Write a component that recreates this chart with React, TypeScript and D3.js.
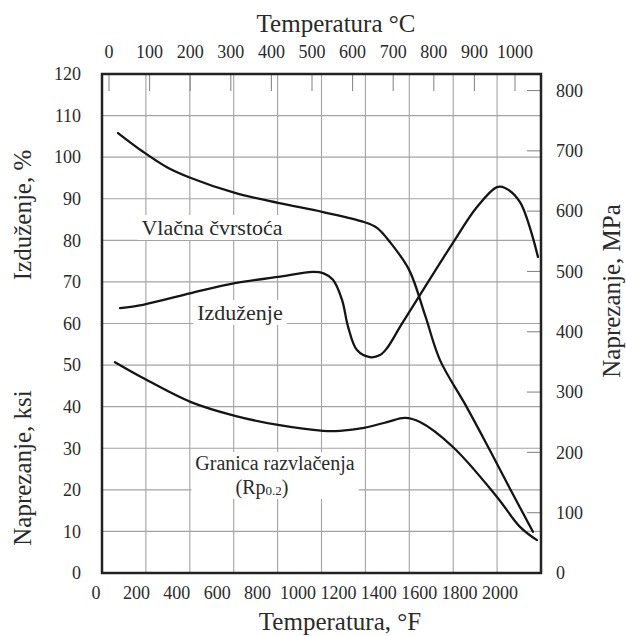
import React, { useLayoutEffect, useRef, useState } from "react";
import * as d3 from "d3";

// ---- data (°F on the printed bottom labels; ksi / % on the left axis) ----
const fLabels = [0, 200, 400, 600, 800, 1000, 1200, 1400, 1600, 1800, 2000];
const cLabels = [0, 100, 200, 300, 400, 500, 600, 700, 800, 900, 1000];
const leftLabels = [0, 10, 20, 30, 40, 50, 60, 70, 80, 90, 100, 110, 120];
const mpaLabels = [0, 100, 200, 300, 400, 500, 600, 700, 800];
const gridF = [200, 400, 600, 800, 1000, 1200, 1400, 1600, 1800];
const gridLeft = [10, 20, 30, 40, 50, 60, 70, 80, 90, 100, 110];

const tensileF = [109, 233, 351, 470, 688, 901, 1124, 1327, 1391, 1455, 1550, 1629, 1703, 1827, 1936, 2045, 2163];
const tensileKsi = [105.8, 101.3, 97.6, 95.0, 91.4, 89.0, 86.8, 84.4, 83.0, 79.6, 72.9, 62.0, 51.2, 40.6, 30.8, 20.7, 9.9];

const elongF = [119, 233, 470, 688, 901, 1074, 1124, 1173, 1218, 1248, 1292, 1356, 1406, 1441, 1505, 1594, 1767, 1886, 1985, 2025, 2099, 2188];
const elongPct = [63.7, 64.5, 67.3, 69.7, 71.2, 72.4, 72.1, 70.5, 65.7, 59.2, 53.6, 51.9, 52.4, 54.1, 59.2, 66.1, 79.4, 88.0, 92.8, 92.6, 89.2, 76.0];

const yieldF = [94, 233, 470, 688, 901, 1124, 1208, 1327, 1441, 1530, 1604, 1767, 1985, 2099, 2183];
const yieldKsi = [50.7, 46.9, 41.1, 37.8, 35.6, 34.2, 34.2, 34.9, 36.3, 37.3, 36.3, 30.3, 18.3, 11.1, 7.9];

const MPA_PER_KSI = 6.895;

const FONT = '"Liberation Serif", "Times New Roman", serif';
const TEXT = "#2a2a2a";

type Box = { x: number; y: number; w: number; h: number };

export default function App() {
  const W = 626;
  const H = 636;
  const x = d3.scaleLinear().domain([0, 2000]).range([96, 500]);
  const xGrid = d3.scaleLinear().domain([0, 2000]).range([102, 541]);
  const xC = d3.scaleLinear().domain([0, 1000]).range([109, 515]);
  const y = d3.scaleLinear().domain([0, 120]).range([573, 74]);
  const [x0, x1] = xGrid.range();
  const [yb, yt] = y.range();

  const line = d3
    .line<[number, number]>()
    .x((d) => x(d[0]))
    .y((d) => y(d[1]))
    .curve(d3.curveCatmullRom.alpha(0.5));

  const series = [
    d3.zip(tensileF, tensileKsi) as [number, number][],
    d3.zip(elongF, elongPct) as [number, number][],
    d3.zip(yieldF, yieldKsi) as [number, number][],
  ];

  const r1 = useRef<SVGGElement>(null);
  const r2 = useRef<SVGGElement>(null);
  const r3 = useRef<SVGGElement>(null);
  const [boxes, setBoxes] = useState<Box[]>([]);
  useLayoutEffect(() => {
    const bs: Box[] = [];
    [r1, r2, r3].forEach((r) => {
      if (r.current) {
        const b = r.current.getBBox();
        bs.push({ x: b.x - 4, y: b.y, w: b.width + 8, h: b.height });
      }
    });
    setBoxes(bs);
  }, []);

  return (
    <svg
      width={W}
      height={H}
      style={{ position: "absolute", left: 0, top: 0, background: "#fff" }}
      fontFamily={FONT}
    >
      <rect width={W} height={H} fill="#fff" />
      {/* grid */}
      <g stroke="#a3a3a3" strokeWidth={1.1}>
        {gridF.map((f) => (
          <line key={"gv" + f} x1={xGrid(f)} x2={xGrid(f)} y1={yt} y2={yb} />
        ))}
        {gridLeft.map((v) => (
          <line key={"gh" + v} x1={x0} x2={x1} y1={y(v)} y2={y(v)} />
        ))}
      </g>
      {/* °C ticks at top */}
      <g stroke="#8a8a8a" strokeWidth={1.1}>
        {cLabels.map((c) => (
          <line key={"ct" + c} x1={xC(c)} x2={xC(c)} y1={yt} y2={yt + 17} />
        ))}
        {mpaLabels.slice(1).map((m) => (
          <line key={"mt" + m} x1={x1 - 14} x2={x1} y1={y(m / MPA_PER_KSI)} y2={y(m / MPA_PER_KSI)} />
        ))}
      </g>
      {/* label backgrounds */}
      {boxes.map((b, i) => (
        <rect key={"bx" + i} x={b.x} y={b.y} width={b.w} height={b.h} fill="#fff" />
      ))}
      {/* curve labels */}
      <g fill={TEXT}>
        <g ref={r1}>
          <text x={212} y={235} fontSize={22} textAnchor="middle">
            Vlačna čvrstoća
          </text>
        </g>
        <g ref={r2}>
          <text x={240} y={320} fontSize={22} textAnchor="middle">
            Izduženje
          </text>
        </g>
        <g ref={r3}>
          <text x={275} y={470} fontSize={20} textAnchor="middle">
            Granica razvlačenja
          </text>
          <text x={262} y={494} fontSize={20} textAnchor="middle">
            (Rp<tspan fontSize={13} dy={1}>0.2</tspan>
            <tspan dy={-1}>)</tspan>
          </text>
        </g>
      </g>
      {/* curves */}
      <g fill="none" stroke="#151515" strokeWidth={2.3} strokeLinecap="round">
        {series.map((s, i) => (
          <path key={"s" + i} d={line(s) || ""} />
        ))}
      </g>
      {/* frame */}
      <rect x={x0} y={yt} width={x1 - x0} height={yb - yt} fill="none" stroke="#222" strokeWidth={2.5} />
      {/* tick labels */}
      <g fill={TEXT} fontSize={18}>
        {leftLabels.map((v) => (
          <text key={"ll" + v} x={81} y={y(v)} dy="0.35em" textAnchor="end">
            {v}
          </text>
        ))}
        {mpaLabels.map((m) => (
          <text key={"rl" + m} x={556} y={y(m / MPA_PER_KSI)} dy="0.35em" textAnchor="start">
            {m}
          </text>
        ))}
        {fLabels.map((f) => (
          <text key={"bl" + f} x={x(f)} y={599} textAnchor="middle">
            {f}
          </text>
        ))}
        {cLabels.map((c) => (
          <text key={"tl" + c} x={xC(c)} y={58} textAnchor="middle">
            {c}
          </text>
        ))}
      </g>
      {/* axis titles */}
      <g fill={TEXT} fontSize={25}>
        <text x={336} y={32} textAnchor="middle">
          Temperatura °C
        </text>
        <text x={340} y={630} textAnchor="middle">
          Temperatura, °F
        </text>
        <text transform="translate(31,215) rotate(-90)" textAnchor="middle">
          Izduženje, %
        </text>
        <text transform="translate(31,468) rotate(-90)" textAnchor="middle">
          Naprezanje, ksi
        </text>
        <text transform="translate(620,291) rotate(-90)" textAnchor="middle">
          Naprezanje, MPa
        </text>
      </g>
    </svg>
  );
}
